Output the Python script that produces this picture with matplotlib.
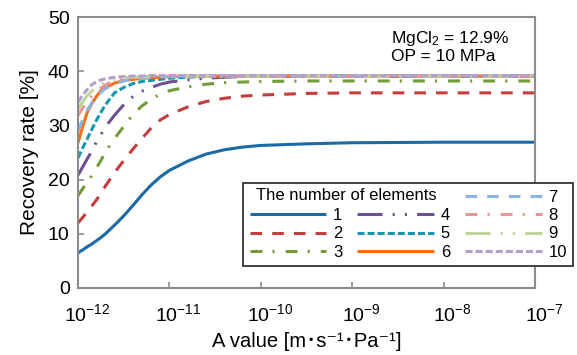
import matplotlib
matplotlib.use("Agg")
import matplotlib.pyplot as plt
from matplotlib.lines import Line2D
import matplotlib.transforms as mtransforms
import numpy as np

plt.rcParams['font.family'] = ['Liberation Sans', 'DejaVu Sans', 'Noto Sans CJK JP']
plt.rcParams['mathtext.fontset'] = 'custom'
plt.rcParams['mathtext.rm'] = 'Liberation Sans'
plt.rcParams['mathtext.it'] = 'Liberation Sans:italic'
plt.rcParams['mathtext.bf'] = 'Liberation Sans:bold'

# ---- data (x as log10 of A value) ----
log_a = [-12, -11.95, -11.9, -11.85, -11.8, -11.75, -11.7, -11.6, -11.5, -11.4,
         -11.3, -11.2, -11.1, -11.0, -10.8, -10.6, -10.4, -10.2, -10.0, -9.5,
         -9.0, -8.0, -7.0]

n1 = [6.5, 7.0, 7.6, 8.1, 8.7, 9.3, 10.0, 11.6, 13.3, 15.2, 17.2, 19.0, 20.5, 21.7,
      23.4, 24.7, 25.5, 26.0, 26.3, 26.6, 26.8, 26.9, 26.9]
n2 = [12.0, 13.0, 14.0, 15.1, 16.2, 17.4, 18.8, 21.3, 23.5, 25.6, 27.6, 29.5, 31.0,
      32.0, 33.4, 34.4, 35.0, 35.4, 35.6, 35.9, 36.0, 36.0, 36.0]
n3 = [17.0, 18.3, 19.5, 20.7, 22.1, 23.5, 25.1, 27.6, 29.8, 32.0, 33.6, 34.8, 35.8,
      36.4, 37.1, 37.6, 37.9, 38.0, 38.1, 38.2, 38.2, 38.2, 38.2]
n4 = [20.8, 22.3, 23.8, 25.2, 26.9, 28.3, 29.7, 31.9, 33.8, 35.3, 36.3, 37.0, 37.6,
      38.0, 38.4, 38.7, 38.9, 39.0, 39.1, 39.1, 39.1, 39.1, 39.1]
n5 = [24.0, 25.8, 27.5, 29.2, 30.9, 32.4, 33.8, 36.0, 37.0, 37.7, 38.1, 38.3, 38.5,
      38.7, 38.9, 39.0, 39.1, 39.1, 39.1, 39.1, 39.1, 39.1, 39.1]
n6 = [26.8, 29.7, 32.4, 34.0, 35.3, 36.4, 37.0, 37.8, 38.3, 38.5, 38.7, 38.8, 38.9,
      39.0, 39.1, 39.1, 39.1, 39.1, 39.1, 39.1, 39.1, 39.1, 39.1]
n7 = [29.0, 31.0, 32.8, 34.1, 35.2, 36.1, 36.8, 37.7, 38.2, 38.5, 38.7, 38.9, 39.0,
      39.0, 39.1, 39.1, 39.1, 39.1, 39.1, 39.1, 39.1, 39.1, 39.1]
n8 = [31.8, 33.2, 34.4, 35.4, 36.2, 36.9, 37.5, 38.2, 38.6, 38.8, 38.9, 39.0, 39.1,
      39.1, 39.1, 39.1, 39.1, 39.1, 39.1, 39.1, 39.1, 39.1, 39.1]
n9 = [33.0, 34.3, 35.5, 36.3, 36.9, 37.5, 38.0, 38.5, 38.8, 38.9, 39.0, 39.1, 39.1,
      39.1, 39.1, 39.1, 39.1, 39.1, 39.1, 39.1, 39.1, 39.1, 39.1]
n10 = [34.3, 35.6, 36.6, 37.5, 38.0, 38.4, 38.6, 38.9, 39.0, 39.1, 39.1, 39.2, 39.2,
       39.2, 39.2, 39.2, 39.2, 39.2, 39.2, 39.2, 39.2, 39.2, 39.2]

labels = ['1', '2', '3', '4', '5', '6', '7', '8', '9', '10']
series = [n1, n2, n3, n4, n5, n6, n7, n8, n9, n10]
x_ticks = [1e-12, 1e-11, 1e-10, 1e-9, 1e-8, 1e-7]
y_ticks = [0, 10, 20, 30, 40, 50]

colors = ['#1B6AA5', '#C43C3C', '#739B37', '#6E5096', '#1996AF', '#FA6E14',
          '#8CB4E1', '#EB9696', '#BED796', '#B4A0CD']
dash_long = (3.8, 3.3)
dash_dot = (3.9, 3.3, 0.7, 3.6)
dash_dot_dot = (8.2, 3.3, 0.7, 3.3, 0.7, 3.3)
dash_short = (2.3, 1.0)
styles = [None, dash_long, dash_dot, dash_dot_dot, dash_short, None,
          dash_long, dash_dot, dash_dot_dot, dash_short]

fig = plt.figure(figsize=(5.77, 3.55), dpi=100)
ax = fig.add_axes([78 / 577, 1 - 288 / 355, (535 - 78) / 577, (288 - 17) / 355])

x = 10.0 ** np.array(log_a)
lw = 2.2
handles = []
for ys, c, st, lab in zip(series, colors, styles, labels):
    if st is None:
        h, = ax.plot(x, ys, color=c, lw=lw, solid_capstyle='butt', label=lab)
    else:
        h, = ax.plot(x, ys, color=c, lw=lw, dashes=st, dash_capstyle='butt', label=lab)
    handles.append(h)

ax.set_xscale('log')
ax.set_xlim(1e-12, 1e-7)
ax.set_ylim(0, 50)
ax.set_xticks(x_ticks)
ax.set_xticks([], minor=True)
ax.set_yticks(y_ticks)

gray = '#8C8C8C'
for s in ax.spines.values():
    s.set_color(gray)
    s.set_linewidth(1.5)
ax.tick_params(axis='both', direction='in', length=4, width=1.2, color=gray,
               labelsize=14, labelcolor='black')
ax.tick_params(axis='x', pad=11)
ax.tick_params(axis='y', pad=6)

# shift x tick labels right so the "10" sits over the tick (Excel style)
offset = mtransforms.ScaledTranslation(9 / 100, 0, fig.dpi_scale_trans)
for tick in ax.xaxis.get_major_ticks():
    tick.label1.set_transform(tick.label1.get_transform() + offset)

ax.set_xlabel('A value [m･s⁻¹･Pa⁻¹]', fontsize=14.5, labelpad=5)
ax.set_ylabel('Recovery rate [%]', fontsize=15, labelpad=6)

ax.text(0.685, 0.955, r'MgCl$_2$ = 12.9%' + '\nOP = 10 MPa', transform=ax.transAxes,
        fontsize=12.5, va='top', ha='left', linespacing=1.05)

blank = Line2D([], [], color='none')
order = [blank, handles[0], handles[1], handles[2],
         blank, handles[3], handles[4], handles[5],
         handles[6], handles[7], handles[8], handles[9]]
order_labels = ['', '1', '2', '3', '', '4', '5', '6', '7', '8', '9', '10']
leg = ax.legend(order, order_labels, ncol=3, loc='upper left',
                bbox_to_anchor=((243 - 78) / 457, (288 - 183) / 271),
                fontsize=12, handlelength=4.6, handletextpad=0.4,
                columnspacing=0.9, labelspacing=0.2, borderpad=0.4,
                borderaxespad=0, fancybox=False, framealpha=1,
                edgecolor='#333333')
leg.get_frame().set_linewidth(1.3)
ax.text((256 - 78) / 457, (288 - 196) / 271, 'The number of elements',
        transform=ax.transAxes, fontsize=12, va='center', ha='left', zorder=10)

fig.savefig('out.png', dpi=100)
